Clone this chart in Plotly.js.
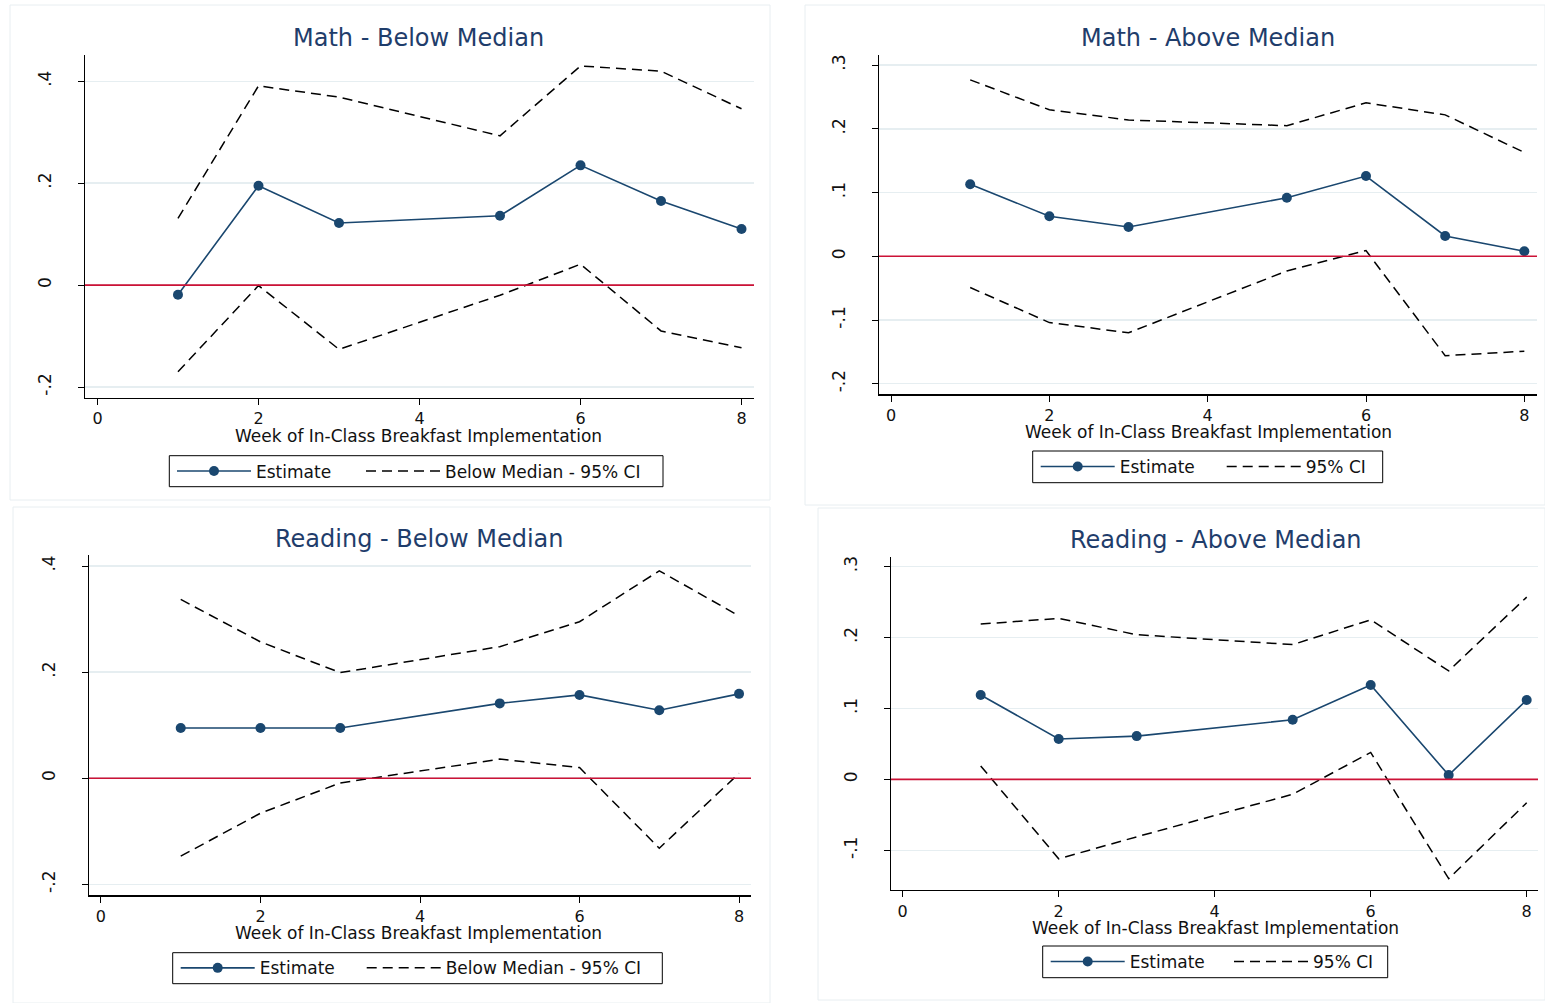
<!DOCTYPE html>
<html>
<head>
<meta charset="utf-8">
<script src="https://cdn.plot.ly/plotly-3.0.1.min.js"></script>
<style>
  html, body { margin: 0; padding: 0; background: #ffffff; }
  #chart { width: 1545px; height: 1003px; }
</style>
</head>
<body>
<div id="chart"></div>
<script>
// ---------------- DATA ----------------
const weeks = [1, 2, 3, 5, 6, 7, 8];

const mathBelowEst   = [-0.019, 0.195, 0.122, 0.136, 0.235, 0.165, 0.110];
const mathBelowUpper = [0.131, 0.391, 0.369, 0.293, 0.430, 0.420, 0.346];
const mathBelowLower = [-0.170, -0.001, -0.126, -0.020, 0.041, -0.090, -0.123];

const mathAboveEst   = [0.113, 0.063, 0.046, 0.092, 0.126, 0.032, 0.008];
const mathAboveUpper = [0.277, 0.230, 0.214, 0.205, 0.241, 0.222, 0.163];
const mathAboveLower = [-0.049, -0.104, -0.120, -0.023, 0.009, -0.156, -0.149];

const readBelowEst   = [0.0945, 0.0945, 0.0945, 0.141, 0.157, 0.128, 0.159];
const readBelowUpper = [0.337, 0.257, 0.199, 0.248, 0.295, 0.391, 0.306];
const readBelowLower = [-0.147, -0.066, -0.009, 0.036, 0.020, -0.132, 0.009];

const readAboveEst   = [0.119, 0.057, 0.061, 0.084, 0.133, 0.006, 0.112];
const readAboveUpper = [0.219, 0.227, 0.204, 0.190, 0.225, 0.153, 0.257];
const readAboveLower = [0.019, -0.112, -0.081, -0.021, 0.038, -0.140, -0.033];

const panelTitles = ["Math - Below Median", "Math - Above Median", "Reading - Below Median", "Reading - Above Median"];
const ciNames = ["Below Median - 95% CI", "95% CI", "Below Median - 95% CI", "95% CI"];
const estName = "Estimate";
const xAxisTitle = "Week of In-Class Breakfast Implementation";

const xTickVals = [0, 2, 4, 6, 8];
const xTickText = ["0", "2", "4", "6", "8"];
const yTickValsWide = [-0.2, 0, 0.2, 0.4];
const yTickTextWide = ["-.2", "0", ".2", ".4"];
const yTickValsMA = [-0.2, -0.1, 0, 0.1, 0.2, 0.3];
const yTickTextMA = ["-.2", "-.1", "0", ".1", ".2", ".3"];
const yTickValsRA = [-0.1, 0, 0.1, 0.2, 0.3];
const yTickTextRA = ["-.1", "0", ".1", ".2", ".3"];

// ---------------- STYLE ----------------
const W = 1545, H = 1003;
const NAVY = "#1a476f";
const TITLE_C = "#1f3d6b";
const FONT = "DejaVu Sans, Liberation Sans, Arial, sans-serif";
const LEG_OFF = 5;   // px between legend origin and start of its symbol

const panels = [
  { est: mathBelowEst, up: mathBelowUpper, lo: mathBelowLower,
    px: [85, 754], py: [55, 397.7], xr: [-0.155, 8.155], yr: [-0.221, 0.4516],
    yt: yTickValsWide, ytt: yTickTextWide,
    title: [418, 38], xt: [418, 436],
    frame: [169.3, 455.7, 663, 486.7], legA: 177, legB: 366, legY: 471.5 },
  { est: mathAboveEst, up: mathAboveUpper, lo: mathAboveLower,
    px: [879, 1537], py: [55, 394.3], xr: [-0.152, 8.16], yr: [-0.2166, 0.316],
    yt: yTickValsMA, ytt: yTickTextMA,
    title: [1208, 38], xt: [1208, 432],
    frame: [1032.7, 451, 1382.7, 482.7], legA: 1040.7, legB: 1226.7, legY: 467 },
  { est: readBelowEst, up: readBelowUpper, lo: readBelowLower,
    px: [89, 751], py: [555, 895.3], xr: [-0.15, 8.15], yr: [-0.2208, 0.4208],
    yt: yTickValsWide, ytt: yTickTextWide,
    title: [419, 539], xt: [418, 933],
    frame: [172.7, 952.7, 662.3, 983.7], legA: 180.7, legB: 366.7, legY: 968.3 },
  { est: readAboveEst, up: readAboveUpper, lo: readAboveLower,
    px: [891, 1538], py: [556.7, 890], xr: [-0.15, 8.145], yr: [-0.156, 0.314],
    yt: yTickValsRA, ytt: yTickTextRA,
    title: [1216, 540], xt: [1215, 928],
    frame: [1042.7, 946, 1387.7, 977.7], legA: 1050.7, legB: 1234, legY: 962 }
];

const traces = [];
const layout = {
  width: W, height: H,
  margin: { l: 0, r: 0, t: 0, b: 0 },
  paper_bgcolor: "#ffffff",
  plot_bgcolor: "#ffffff",
  showlegend: true,
  font: { family: FONT, size: 16, color: "#111111" },
  annotations: [],
  shapes: []
};

// faint panel borders
const boxes = [[10, 5, 770, 500], [805, 5, 1545, 505], [13, 507, 770, 1003], [818, 508, 1545, 1000]];
boxes.forEach(b => {
  layout.shapes.push({ type: "rect", xref: "paper", yref: "paper",
    x0: b[0] / W, x1: b[2] / W, y0: 1 - b[3] / H, y1: 1 - b[1] / H,
    line: { color: "#e8eef1", width: 1 }, layer: "below" });
});

function legendDef(xpx, ypx) {
  return {
    visible: true,
    x: (xpx - LEG_OFF) / W, y: 1 - ypx / H, xanchor: "left", yanchor: "middle",
    xref: "paper", yref: "paper",
    orientation: "h", borderwidth: 0,
    bgcolor: "rgba(0,0,0,0)", itemwidth: 74,
    font: { family: FONT, size: 17, color: "#111111" },
    itemclick: false, itemdoubleclick: false
  };
}

panels.forEach((p, i) => {
  const n = i + 1;
  const xa = n === 1 ? "x" : "x" + n;
  const ya = n === 1 ? "y" : "y" + n;
  const legA = (2 * n - 1) === 1 ? "legend" : "legend" + (2 * n - 1);
  const legB = "legend" + (2 * n);

  layout[n === 1 ? "xaxis" : "xaxis" + n] = {
    domain: [p.px[0] / W, p.px[1] / W], range: p.xr, anchor: ya,
    tickvals: xTickVals, ticktext: xTickText,
    showgrid: false, zeroline: false, showline: true,
    linecolor: "#000000", linewidth: 1.3,
    ticks: "outside", ticklen: 6, tickcolor: "#000000", tickwidth: 1,
    tickfont: { family: FONT, size: 16, color: "#111111" },
    fixedrange: true
  };
  layout[n === 1 ? "yaxis" : "yaxis" + n] = {
    domain: [1 - p.py[1] / H, 1 - p.py[0] / H], range: p.yr, anchor: xa,
    tickvals: p.yt, ticktext: p.ytt, tickangle: -90,
    showgrid: true, gridcolor: "#e6eef1", gridwidth: 1.5,
    zeroline: false, showline: true,
    linecolor: "#000000", linewidth: 1.3,
    ticks: "outside", ticklen: 6, tickcolor: "#000000", tickwidth: 1,
    ticklabelstandoff: 20,
    tickfont: { family: FONT, size: 17, color: "#111111" },
    fixedrange: true
  };

  // zero reference line
  layout.shapes.push({ type: "line", xref: xa + " domain", yref: ya,
    x0: 0, x1: 1, y0: 0, y1: 0, line: { color: "#cc1236", width: 1.6 } });

  // legend frame
  layout.shapes.push({ type: "rect", xref: "paper", yref: "paper",
    x0: p.frame[0] / W, x1: p.frame[2] / W, y0: 1 - p.frame[3] / H, y1: 1 - p.frame[1] / H,
    line: { color: "#000000", width: 1 }, fillcolor: "rgba(0,0,0,0)" });

  traces.push({
    type: "scatter", mode: "lines+markers", x: weeks, y: p.est,
    name: estName, xaxis: xa, yaxis: ya, legend: legA, showlegend: true,
    line: { color: NAVY, width: 1.6 },
    marker: { color: NAVY, size: 10, symbol: "circle" }
  });
  traces.push({
    type: "scatter", mode: "lines", x: weeks, y: p.up,
    name: ciNames[i], xaxis: xa, yaxis: ya, legend: legB, showlegend: true,
    line: { color: "#000000", width: 1.5, dash: "10px,6px" }
  });
  traces.push({
    type: "scatter", mode: "lines", x: weeks, y: p.lo,
    name: ciNames[i], xaxis: xa, yaxis: ya, legend: legB, showlegend: false,
    line: { color: "#000000", width: 1.5, dash: "10px,6px" }
  });

  layout[legA] = legendDef(p.legA, p.legY);
  layout[legB] = legendDef(p.legB, p.legY);

  layout.annotations.push({
    xref: "paper", yref: "paper", x: p.title[0] / W, y: 1 - p.title[1] / H,
    xanchor: "center", yanchor: "middle", showarrow: false,
    text: panelTitles[i], font: { family: FONT, size: 24, color: TITLE_C }
  });
  layout.annotations.push({
    xref: "paper", yref: "paper", x: p.xt[0] / W, y: 1 - p.xt[1] / H,
    xanchor: "center", yanchor: "middle", showarrow: false,
    text: xAxisTitle, font: { family: FONT, size: 17, color: "#111111" }
  });
});

Plotly.newPlot("chart", traces, layout, { displayModeBar: false, staticPlot: true });
</script>
</body>
</html>
